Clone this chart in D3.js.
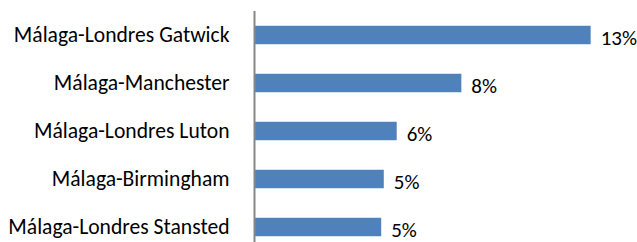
<!DOCTYPE html>
<html>
<head>
<meta charset="utf-8">
<script src="https://cdn.jsdelivr.net/npm/d3@7"></script>
<style>
  body { margin: 0; background: #fff; }
  svg { display: block; }
  text { font-family: Carlito, Calibri, Lato, sans-serif; fill: #000; }
</style>
</head>
<body>
<div id="chart"></div>
<script>
// routes and their share
var routes = ["Málaga-Londres Gatwick", "Málaga-Manchester", "Málaga-Londres Luton", "Málaga-Birmingham", "Málaga-Londres Stansted"];
var shares = [0.13, 0.08, 0.055, 0.05, 0.049];
var shareLabels = ["13%", "8%", "6%", "5%", "5%"];

var width = 637, height = 242;
var axisX = 254.5;

var svg = d3.select("#chart").append("svg")
	.attr("width", width)
	.attr("height", height);

var x = d3.scaleLinear()
	.domain([0, 0.14])
	.range([axisX, axisX + 362]);

var y = d3.scaleBand()
	.domain(routes)
	.range([11, 251])
	.paddingInner(0.615)
	.paddingOuter(0.3075);

var rows = routes.map(function (r, i) {
	return { route: r, share: shares[i], label: shareLabels[i] };
});

// bars
svg.selectAll(".bar")
	.data(rows)
	.enter()
	.append("rect")
	.attr("class", "bar")
	.attr("x", x(0))
	.attr("y", function (d) { return y(d.route); })
	.attr("width", function (d) { return x(d.share) - x(0); })
	.attr("height", y.bandwidth())
	.attr("fill", "#4f81bd");

// value labels
svg.selectAll(".val")
	.data(rows)
	.enter()
	.append("text")
	.attr("class", "val")
	.attr("x", function (d) { return x(d.share) + 10; })
	.attr("y", function (d) { return y(d.route) + y.bandwidth() / 2 + 3; })
	.attr("dy", "0.35em")
	.style("font-size", "21px")
	.text(function (d) { return d.label; });

// category axis
var yAxis = d3.axisLeft(y).tickSize(0).tickPadding(25);
var g = svg.append("g")
	.attr("transform", "translate(" + axisX + ",0)")
	.call(yAxis);
g.select(".domain").remove();
g.attr("font-family", null).attr("font-size", null);
g.selectAll("text")
	.style("font-size", "21.6px")
	.attr("fill", "#000");

svg.append("line")
	.attr("x1", axisX).attr("x2", axisX)
	.attr("y1", 11).attr("y2", height)
	.attr("stroke", "#868686")
	.attr("stroke-width", 2);
</script>
</body>
</html>
